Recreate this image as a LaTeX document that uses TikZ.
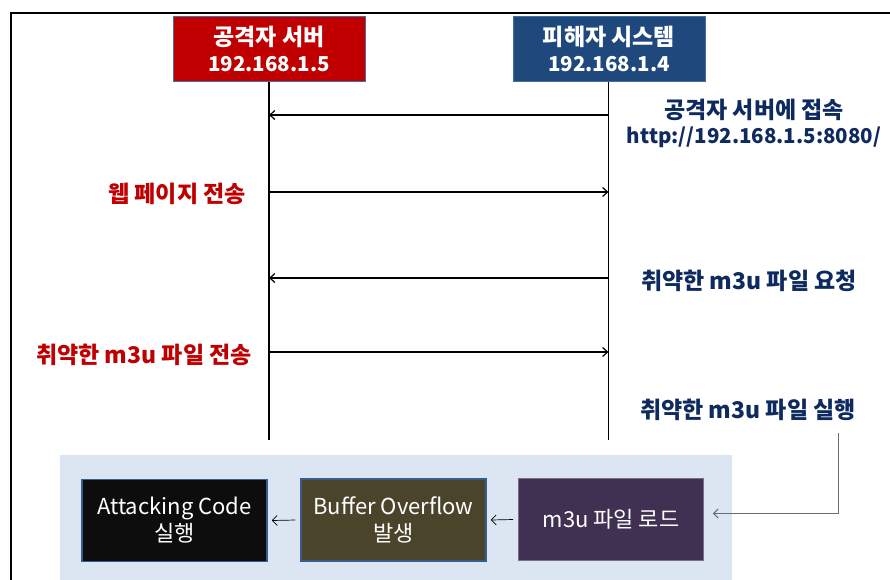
\documentclass[tikz,border=0pt]{standalone}
\usepackage{fontspec}
\newfontfamily\kr{Noto Sans CJK KR}
\usetikzlibrary{arrows.meta}
\definecolor{redfill}{HTML}{C00000}
\definecolor{bluefill}{HTML}{1F497D}
\definecolor{boxedge}{HTML}{41719C}
\definecolor{navytext}{HTML}{0E2A5E}
\definecolor{redtext}{HTML}{C00000}
\definecolor{panel}{HTML}{DCE6F2}
\definecolor{blackfill}{HTML}{0D0D0D}
\definecolor{olivefill}{HTML}{4A452A}
\definecolor{purplefill}{HTML}{403152}
\definecolor{stepedge}{HTML}{385D8A}
\newcommand\latinsize{\fontsize{20.5}{26}\selectfont}
\tikzset{
  hdr/.style={rectangle, draw=boxedge, line width=1pt, text=white, align=center,
    font=\kr\bfseries\fontsize{23}{26}\selectfont, minimum width=192pt, minimum height=65pt, inner sep=0pt},
  msg/.style={line width=1.2pt, -{Straight Barb[length=5pt,width=9pt,line width=1.2pt]}},
  life/.style={line width=1.2pt},
  navylbl/.style={text=navytext, align=center, font=\kr\bfseries\fontsize{23}{25}\selectfont, inner sep=0pt},
  redlbl/.style={text=redtext, align=center, font=\kr\bfseries\fontsize{23}{25}\selectfont, inner sep=0pt},
  stepbox/.style={rectangle, draw=stepedge, line width=1.5pt, text=white, align=center,
    font=\kr\fontsize{22}{27}\selectfont, minimum width=185pt, minimum height=82pt, inner sep=0pt},
  small/.style={line width=0.7pt, -{Straight Barb[length=5pt,width=10pt,line width=0.7pt]}},
}
\begin{document}
\begin{tikzpicture}[x=1pt,y=-1pt]
\useasboundingbox (0,0) rectangle (890,579);
% frame
\draw[line width=1.3pt] (11,590) -- (11,13) -- (900,13);
% panel
\fill[panel] (60,455) rectangle (732,590);
% headers
\node[hdr, fill=redfill] (atk) at (269,48.5) {공격자 서버\\{\latinsize 192.168.1.5}};
\node[hdr, fill=bluefill] (vic) at (609,48.5) {피해자 시스템\\{\latinsize 192.168.1.4}};
% lifeline ends
\coordinate (atkend) at (269,440);
\coordinate (vicend) at (608.5,440);
\draw[life] (atk.south) -- (atkend);
\draw[life] (vic.south -| vicend) -- (vicend);
% message points
\coordinate (L1) at (269,115); \coordinate (R1) at (608.5,115);
\coordinate (L2) at (269,192); \coordinate (R2) at (608.5,192);
\coordinate (L3) at (269,278); \coordinate (R3) at (608.5,278);
\coordinate (L4) at (269,352); \coordinate (R4) at (608.5,352);
\draw[msg] (R1) -- (L1);
\draw[msg] (L2) -- (R2);
\draw[msg] (R3) -- (L3);
\draw[msg] (L4) -- (R4);
% labels
\node[navylbl] (m1) at (754,123) {공격자 서버에 접속\\{\latinsize http://192.168.1.5:8080/}};
\node[redlbl, anchor=east] (m2) at (246,194) {웹 페이지 전송};
\node[navylbl] (m3) at (749,281) {취약한 m3u 파일 요청};
\node[redlbl, anchor=east] (m4) at (252,355) {취약한 m3u 파일 전송};
\node[navylbl] (m5) at (748,410) {취약한 m3u 파일 실행};
% steps
\node[stepbox, fill=blackfill] (code) at (174.5,520.5) {Attacking Code\\실행};
\node[stepbox, fill=olivefill] (bof) at (393.5,520) {Buffer Overflow\\발생};
\node[stepbox, fill=purplefill, draw=purplefill!70!white, line width=0.8pt] (load) at (611,519.5) {m3u 파일 로드};
\draw[small] (load.west) ++(-5,0) coordinate (s1) -- ([xshift=4pt]bof.east);
\draw[small] (bof.west) ++(-5,0) coordinate (s2) -- ([xshift=4pt]code.east);
\coordinate (c1) at (838,433);
\draw[line width=1pt, gray!85!black, -{Straight Barb[length=4.5pt,width=9pt,line width=1pt]}]
  (c1) |- ([xshift=9pt,yshift=6pt]load.east);
\end{tikzpicture}
\end{document}
